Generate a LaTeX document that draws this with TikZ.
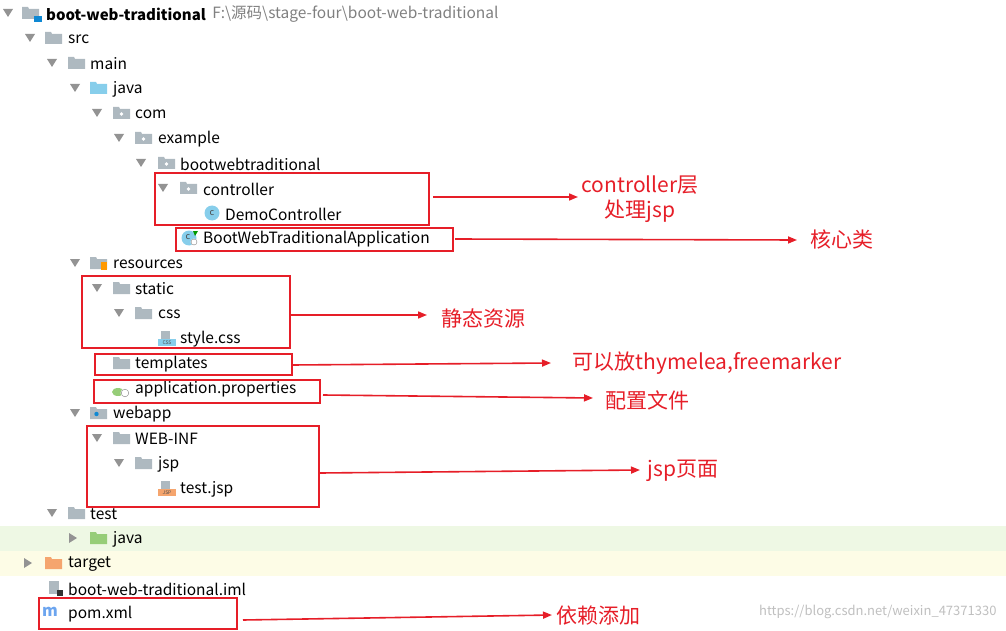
\documentclass[tikz,border=0pt]{standalone}
\usepackage{fontspec}
\setmainfont{Noto Sans CJK SC}
\usetikzlibrary{arrows.meta}
\definecolor{fgray}{RGB}{174,185,192}
\definecolor{tgray}{RGB}{128,128,128}
\definecolor{rbox}{RGB}{230,30,40}
\definecolor{jblue}{RGB}{135,206,235}
\definecolor{gbg}{RGB}{238,248,228}
\definecolor{ybg}{RGB}{253,252,230}
\definecolor{orng}{RGB}{245,165,110}
\definecolor{grn}{RGB}{150,205,120}
\tikzset{
  item/.style={anchor=west,inner sep=0pt,font=\fontsize{15.5pt}{17pt}\selectfont},
  redbox/.style={draw=rbox,line width=2.4pt},
  redarrow/.style={draw=rbox,line width=1.6pt,-{Triangle[length=9pt,width=7pt]}},
  note/.style={text=rbox,font=\fontsize{21pt}{25pt}\selectfont,align=center,inner sep=0pt}
}
\newcommand{\tdown}[2]{\fill[tgray!85] (#1-5,#2-4) -- (#1+5,#2-4) -- (#1,#2+4) -- cycle;}
\newcommand{\tright}[2]{\fill[tgray!85] (#1-4,#2-5) -- (#1-4,#2+5) -- (#1+4,#2) -- cycle;}
\newcommand{\fold}[3][fgray]{\fill[#1] (#2,#3-6) -- (#2+6,#3-6) -- (#2+7,#3-4) -- (#2+17,#3-4) -- (#2+17,#3+6) -- (#2,#3+6) -- cycle;}
\newcommand{\pkg}[2]{\fold{#1}{#2}\fill[white] (#1+8.5,#2+1) circle (1.8);}
\begin{document}
\begin{tikzpicture}[x=1pt,y=-1pt]
\useasboundingbox (0,0) rectangle (1006,631);
\fill[gbg] (0,526) rectangle (1006,551);
\fill[ybg] (0,551) rectangle (1006,576);
\tdown{8}{13}\fold{22}{13}\fill[cyan!70!blue] (34,16) rectangle (42,22);
\node[item,font=\fontsize{15pt}{17pt}\selectfont\bfseries] (r0) at (46,14) {boot-web-traditional};
\node[item,text=tgray,anchor=west] (p0) at (r0.east) {\hspace{6pt}F:\textbackslash 源码\textbackslash stage-four\textbackslash boot-web-traditional};
\tdown{30}{38}\fold{45}{38}\node[item] (r1) at (68,39) {src};
\tdown{52}{63}\fold{68}{63}\node[item] (r2) at (90,64) {main};
\tdown{75}{88}\fold[jblue]{90}{88}\node[item] (r3) at (113,89) {java};
\tdown{97}{113}\pkg{113}{113}\node[item] (r4) at (135,114) {com};
\tdown{119}{138}\pkg{135}{138}\node[item] (r5) at (158,139) {example};
\tdown{141}{163}\pkg{158}{163}\node[item] (r6) at (180,164) {bootwebtraditional};
\tdown{163}{188}\pkg{180}{188}\node[item] (r7) at (203,189) {controller};
\fill[jblue] (212,213) circle (7.5);\node[font=\fontsize{9pt}{9pt}\selectfont,text=black!70] at (212,213) {c};
\node[item] (r8) at (225,214) {DemoController};
\fill[jblue] (189,238) circle (7.5);\node[font=\fontsize{9pt}{9pt}\selectfont,text=black!70] at (188,237) {c};
\fill[green!60!black] (193,231) -- (198,231) -- (195,236) -- cycle;
\fill[white] (194,242) circle (3.5);\draw[tgray,thin] (194,242) circle (3);
\node[item] (r9) at (203,239) {BootWebTraditionalApplication};
\tdown{75}{263}\fold{90}{263}\fill[orange!80!yellow] (101,262) rectangle (107,270);
\node[item] (r10) at (113,264) {resources};
\tdown{97}{288}\fold{113}{288}\node[item] (r11) at (135,289) {static};
\tdown{119}{313}\fold{135}{313}\node[item] (r12) at (158,314) {css};
\fill[fgray] (161,331) rectangle (170,339);\fill[jblue] (158,339) rectangle (176,346);
\node[font=\fontsize{5pt}{5pt}\selectfont,text=black!70] at (167,343) {CSS};
\node[item] (r13) at (180,339) {style.css};
\fold{113}{363}\node[item] (r14) at (135,364) {templates};
\fill[grn] (118,392) ellipse (6 and 4);\fill[white] (125,393) circle (4.5);\draw[tgray] (125,393) circle (3.8);
\node[item] (r15) at (135,389) {application.properties};
\tdown{75}{413}\fold{90}{413}\fill[cyan!70!blue] (96.5,414) circle (2.2);
\node[item] (r16) at (113,414) {webapp};
\tdown{97}{438}\fold{113}{438}\node[item] (r17) at (135,439) {WEB-INF};
\tdown{119}{463}\fold{135}{463}\node[item] (r18) at (158,464) {jsp};
\fill[fgray] (161,481) rectangle (170,489);\fill[orng] (158,489) rectangle (176,496);
\node[font=\fontsize{5pt}{5pt}\selectfont,text=black!70] at (167,493) {JSP};
\node[item] (r19) at (180,489) {test.jsp};
\tdown{52}{513}\fold{68}{513}\node[item] (r20) at (90,514) {test};
\tright{73}{538}\fold[grn]{90}{538}\node[item] (r21) at (113,539) {java};
\tright{28}{563}\fold[orng]{45}{563}\node[item] (r22) at (68,564) {target};
\fill[fgray] (49,581) rectangle (59,594);\fill[black!80] (57,590) rectangle (63,596);
\node[item] (r23) at (68,589) {boot-web-traditional.iml};
\node[item,text=jblue!80!blue,font=\fontsize{16pt}{16pt}\selectfont\itshape\bfseries] (m) at (42,612) {m};
\node[item] (r24) at (68,614) {pom.xml};
\draw[redbox] (155,173) rectangle (429,225);
\draw[redbox] (176,228) rectangle (453,251);
\draw[redbox] (82,276) rectangle (290,348);
\draw[redbox] (95,354) rectangle (292,375);
\draw[redbox] (94,380) rectangle (320,403);
\draw[redbox] (87,426) rectangle (319,507);
\draw[redbox] (39,598) rectangle (237,629);
\node[note] (n1) at (640,199) {controller层\\处理jsp};
\node[note] (n2) at (842,239) {核心类};
\node[note] (n3) at (483,318) {静态资源};
\node[note] (n4) at (707,363) {可以放thymelea,freemarker};
\node[note] (n5) at (647,400) {配置文件};
\node[note] (n6) at (683,471) {jsp页面};
\node[note] (n7) at (598,616) {依赖添加};
\coordinate (s1) at (433,197);\coordinate (e1) at (578,197);
\coordinate (s2) at (455,239);\coordinate (e2) at (797,240);
\coordinate (s3) at (291,315);\coordinate (e3) at (427,315);
\coordinate (s4) at (292,365);\coordinate (e4) at (551,363);
\coordinate (s5) at (323,395);\coordinate (e5) at (593,398);
\coordinate (s6) at (320,473);\coordinate (e6) at (640,470);
\coordinate (s7) at (243,620);\coordinate (e7) at (552,615);
\foreach \i in {1,...,7}{\draw[redarrow] (s\i) -- (e\i);}
\node[text=black!25,font=\fontsize{13pt}{14pt}\selectfont,anchor=east] (wm) at (1000,612) {https://blog.csdn.net/weixin\_47371330};
\end{tikzpicture}
\end{document}
